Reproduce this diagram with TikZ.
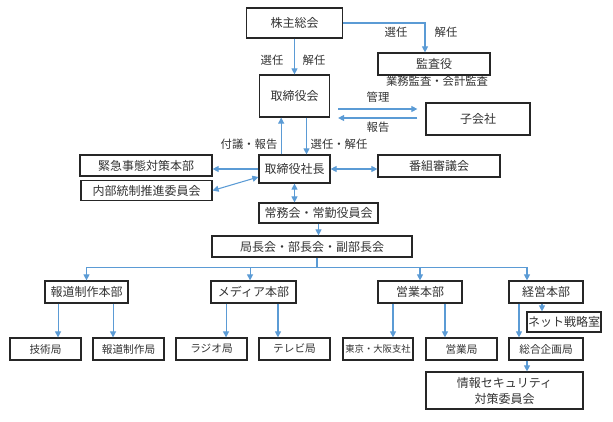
\documentclass[tikz,border=0pt]{standalone}
\usepackage{fontspec}
\setmainfont{Noto Sans CJK JP}
\usetikzlibrary{arrows.meta}
\definecolor{linkblue}{HTML}{5B9BD5}
\begin{document}
\begin{tikzpicture}[x=0.75pt,y=-0.75pt,
    box/.style={draw=black!85,line width=0.9pt,text=black!80,
      font=\fontsize{9}{12}\selectfont,inner sep=0pt,minimum height=16.5pt},
    small/.style={font=\fontsize{8}{10}\selectfont},
    tiny/.style={font=\fontsize{7}{9}\selectfont},
    lbl/.style={text=black!80,font=\fontsize{8.5}{10}\selectfont,inner sep=1pt},
    link/.style={draw=linkblue,line width=0.8pt,-{Triangle[width=4.5pt,length=4.5pt]}},
    both/.style={link,{Triangle[width=4.5pt,length=4.5pt]}-{Triangle[width=4.5pt,length=4.5pt]}}]
  \useasboundingbox (0,0) rectangle (613,421);
  % top
  \node[box,minimum width=72pt,minimum height=22.5pt] (kabunushi) at (294.5,23) {株主総会};
  \node[box,minimum width=84pt] (kansa) at (434,64) {監査役};
  \node[box,minimum width=52.5pt,minimum height=31.5pt] (torikai) at (294.5,96) {取締役会};
  \node[box,minimum width=78pt,minimum height=24pt] (kogaisha) at (478,119) {子会社};
  \node[box,minimum width=53.25pt,minimum height=21pt] (shacho) at (294.5,169) {取締役社長};
  \node[box,minimum width=91.5pt] (bangumi) at (439,166) {番組審議会};
  \node[box,minimum width=99pt,minimum height=15.75pt] (kinkyu) at (146,165.5) {緊急事態対策本部};
  \node[box,minimum width=98.25pt,minimum height=15pt] (naibu) at (146.5,190.5) {内部統制推進委員会};
  \node[box,minimum width=89.25pt,minimum height=15pt] (jomu) at (318.5,213) {常務会・常勤役員会};
  \node[box,minimum width=150pt,minimum height=15.75pt] (kyokucho) at (312,246.5) {局長会・部長会・副部長会};
  % honbu
  \node[box,minimum width=62.25pt] (hodohonbu) at (86.5,292) {報道制作本部};
  \node[box,minimum width=63.75pt] (media) at (253.5,292) {メディア本部};
  \node[box,minimum width=63pt] (eigyohonbu) at (420,292) {営業本部};
  \node[box,minimum width=55.5pt] (keiei) at (546,292) {経営本部};
  \node[box,minimum width=55.5pt,minimum height=15pt] (net) at (564,322) {ネット戦略室};
  % kyoku
  \node[box,small,minimum width=53.25pt] (gijutsu) at (45.5,349) {技術局};
  \node[box,small,minimum width=53.25pt] (hodokyoku) at (128.5,349) {報道制作局};
  \node[box,small,minimum width=53.25pt] (radio) at (211.5,349) {ラジオ局};
  \node[box,small,minimum width=53.25pt] (tv) at (294.5,349) {テレビ局};
  \node[box,tiny,minimum width=52.5pt] (tokyo) at (378,349) {東京・大阪支社};
  \node[box,small,minimum width=53.25pt] (eigyokyoku) at (461.5,349) {営業局};
  \node[box,small,minimum width=55.5pt] (sogo) at (546,349) {総合企画局};
  \node[box,align=center,minimum width=117.75pt,minimum height=27.75pt] (joho) at (504.5,390.5) {情報セキュリティ\\対策委員会};
  % labels
  \node[lbl] (sen1) at (272,60) {選任};
  \node[lbl] (kai1) at (314,60) {解任};
  \node[lbl] (sen2) at (396,32) {選任};
  \node[lbl] (kai2) at (446,32) {解任};
  \node[lbl] (gyomu) at (437,81) {業務監査・会計監査};
  \node[lbl] (kanri) at (378,97) {管理};
  \node[lbl] (hokoku) at (378,127) {報告};
  \node[lbl] (fugi) at (249,144) {付議・報告};
  \node[lbl] (senkai) at (339,144) {選任・解任};
  % connectors
  \draw[link] (kabunushi) -- (torikai);
  \draw[link] (kabunushi.east) -| ([xshift=-6.75pt]kansa.north);
  \draw[link] ([xshift=6pt,yshift=-9.75pt]torikai.east) -- ([xshift=-6pt,yshift=7.5pt]kogaisha.west);
  \draw[link] ([xshift=-6pt,yshift=0.75pt]kogaisha.west) -- ([xshift=6pt,yshift=-16.5pt]torikai.east);
  \draw[link] ([xshift=-10pt]shacho.north) -- ([xshift=-10pt]torikai.south);
  \draw[link] ([xshift=9pt]torikai.south) -- ([xshift=9pt]shacho.north);
  \draw[link] (shacho.west) -- (shacho.west -| kinkyu.east);
  \draw[both] (naibu.east) -- ([yshift=-6pt]shacho.west);
  \draw[both] (shacho.east) -- (shacho.east -| bangumi.west);
  \draw[both] (shacho.south) -- (shacho.south |- jomu.north);
  \draw[link] (jomu.south) -- (jomu.south |- kyokucho.north);
  \draw[draw=linkblue,line width=0.8pt] ([xshift=3.75pt]kyokucho.south) -- ++(0,10) coordinate (bus);
  \draw[link] (bus) -| (hodohonbu.north);
  \draw[link] (bus) -| ([xshift=-2.6pt]media.north);
  \draw[link] (bus) -| (eigyohonbu.north);
  \draw[link] (bus) -| ([xshift=-14.25pt]keiei.north);
  \draw[link] ([xshift=9.4pt]gijutsu.north |- hodohonbu.south) -- ([xshift=9.4pt]gijutsu.north);
  \draw[link] ([xshift=-11.6pt]hodokyoku.north |- hodohonbu.south) -- ([xshift=-11.6pt]hodokyoku.north);
  \draw[link] ([xshift=10.9pt]radio.north |- media.south) -- ([xshift=10.9pt]radio.north);
  \draw[link] ([xshift=-12.4pt]tv.north |- media.south) -- ([xshift=-12.4pt]tv.north);
  \draw[link] ([xshift=11.25pt]tokyo.north |- eigyohonbu.south) -- ([xshift=11.25pt]tokyo.north);
  \draw[link] ([xshift=-12.4pt]eigyokyoku.north |- eigyohonbu.south) -- ([xshift=-12.4pt]eigyokyoku.north);
  \draw[link] ([xshift=-20.25pt]sogo.north |- keiei.south) -- ([xshift=-20.25pt]sogo.north);
  \draw[link] ([xshift=-16.5pt]net.north |- keiei.south) -- ([xshift=-16.5pt]net.north);
  \draw[link] ([xshift=-14.25pt]sogo.south) -- ([xshift=-14.25pt]sogo.south |- joho.north);
\end{tikzpicture}
\end{document}
